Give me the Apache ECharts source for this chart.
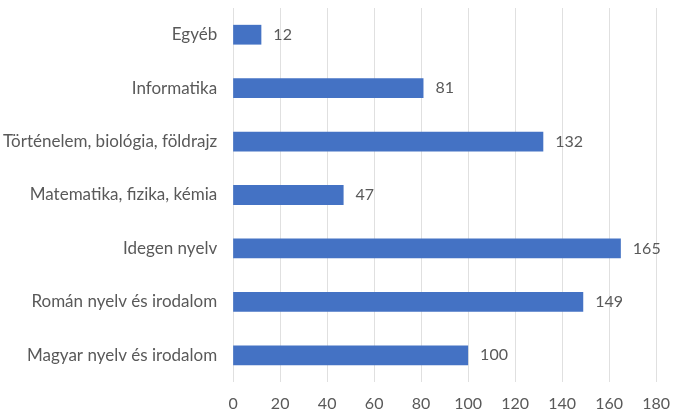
<!DOCTYPE html>
<html>
<head>
<meta charset="utf-8">
<script src="https://cdn.jsdelivr.net/npm/echarts@6/dist/echarts.min.js"></script>
<style>
  html, body { margin: 0; padding: 0; background: #fff; }
  #chart { width: 673px; height: 415px; }
</style>
</head>
<body>
<div id="chart"></div>
<script>
  // kategóriák alulról felfelé
  var categories = [
    'Magyar nyelv és irodalom',
    'Román nyelv és irodalom',
    'Idegen nyelv',
    'Matematika, fizika, kémia',
    'Történelem, biológia, földrajz',
    'Informatika',
    'Egyéb'
  ]
  var values = [100, 149, 165, 47, 132, 81, 12]
  var xTicks = [0, 20, 40, 60, 80, 100, 120, 140, 160, 180]

  var font = 'Lato, sans-serif'
  var chart = echarts.init(document.getElementById('chart'))
  chart.setOption({
    animation: false,
    grid: { left: 232, right: 14, top: 8, bottom: 33 },
    xAxis: {
      type: 'value',
      min: xTicks[0],
      max: xTicks[xTicks.length - 1],
      interval: 20,
      axisLine: { show: false },
      axisTick: { show: false },
      splitLine: { lineStyle: { color: '#e0e0e0', width: 1 } },
      axisLabel: { color: '#595959', fontSize: 16, fontFamily: font, margin: 14 }
    },
    yAxis: {
      type: 'category',
      data: categories,
      axisLine: { show: false },
      axisTick: { show: false },
      axisLabel: { color: '#595959', fontSize: 17, fontFamily: font, margin: 16 }
    },
    series: [{
      type: 'bar',
      data: values,
      barWidth: '37%',
      itemStyle: { color: '#4472C4' },
      label: {
        show: true,
        position: 'right',
        distance: 12,
        color: '#595959',
        fontSize: 16,
        fontFamily: font
      }
    }]
  })
</script>
</body>
</html>
